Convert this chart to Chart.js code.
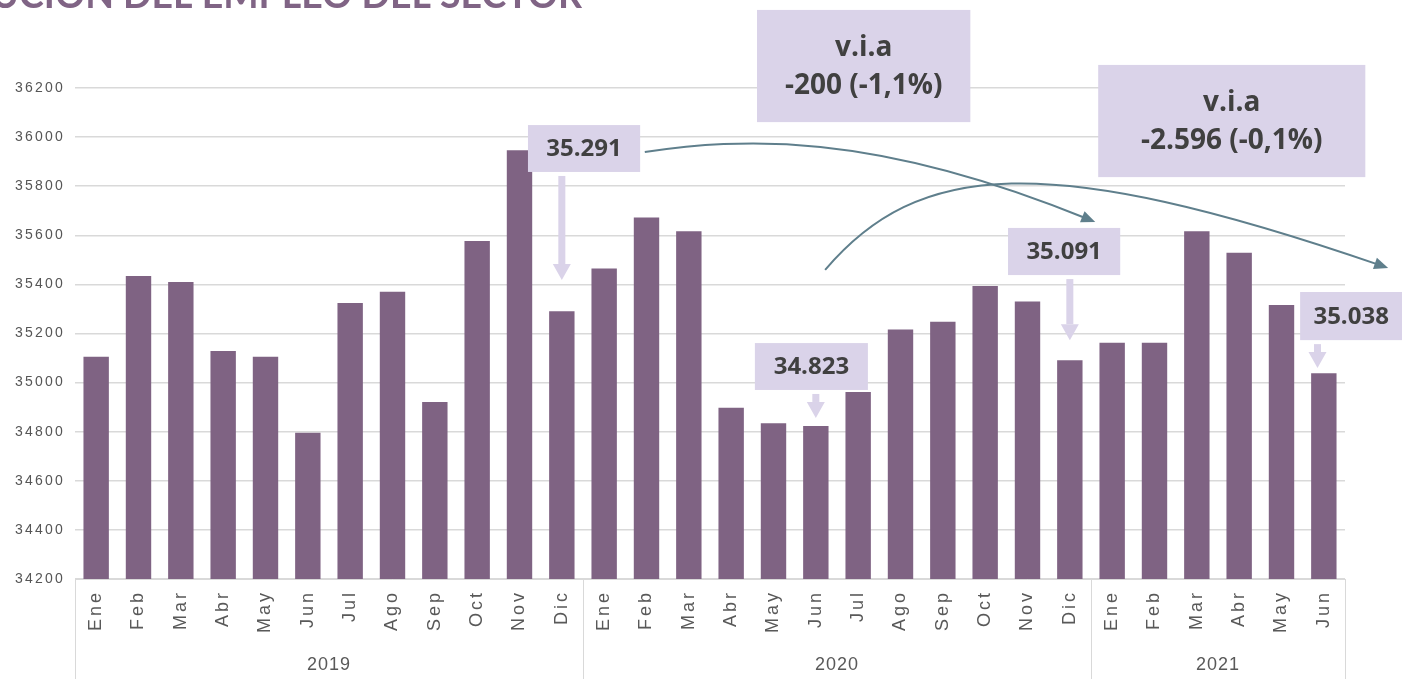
<!DOCTYPE html>
<html>
<head>
<meta charset="utf-8">
<script src="https://cdn.jsdelivr.net/npm/chart.js@4/dist/chart.umd.min.js"></script>
<style>
html, body { margin: 0; padding: 0; background: #fff; overflow: hidden; }
#wrap { position: relative; width: 1402px; height: 679px; }
</style>
</head>
<body>
<div id="wrap"><canvas id="chart" width="1402" height="679"></canvas></div>
<script>
// Data
var months = ['Ene','Feb','Mar','Abr','May','Jun','Jul','Ago','Sep','Oct','Nov','Dic',
              'Ene','Feb','Mar','Abr','May','Jun','Jul','Ago','Sep','Oct','Nov','Dic',
              'Ene','Feb','Mar','Abr','May','Jun'];
var years = ['2019', '2020', '2021'];
var yearCounts = [12, 12, 6];
var empleo = [35105, 35434, 35410, 35129, 35105, 34796, 35324, 35370, 34921, 35577, 35946, 35291,
              35465, 35672, 35616, 34898, 34834, 34823, 34962, 35216, 35248, 35393, 35330, 35091,
              35162, 35162, 35616, 35529, 35316, 35038];
var yMin = 34200;
var yMax = 36200;
var yStep = 200;
var title = 'EVOLUCIÓN DEL EMPLEO DEL SECTOR';

// Callouts, placed in axis units (category index / value)
var valueBoxes = [
	{ text: '35.291', from: 10.2, to: 12.85, top: 36049, bottom: 35858, at: 11, tip: 35418 },
	{ text: '34.823', from: 15.56, to: 18.23, top: 35161, bottom: 34970, at: 17, tip: 34856 },
	{ text: '35.091', from: 21.54, to: 24.19, top: 35630, bottom: 35438, at: 23, tip: 35173 },
	{ text: '35.038', from: 28.44, to: 30.85, top: 35369, bottom: 35173, at: 28.85, tip: 35059 }
];
var viaBoxes = [
	{ lines: ['v.i.a', '-200 (-1,1%)'], from: 15.61, to: 20.65, top: 36518, bottom: 36061 },
	{ lines: ['v.i.a', '-2.596 (-0,1%)'], from: 23.67, to: 29.98, top: 36294, bottom: 35837 }
];
var curves = [
	[[12.96, 35939], [15.21, 35996], [18.28, 36029], [23.60, 35654]],
	[[17.22, 35459], [19.40, 35900], [22.40, 35950], [30.52, 35467]]
];

var BAR = '#7f6383';
var BOX = '#dad3e9';
var BOX_TEXT = '#404040';
var AXIS_TEXT = '#595959';
var GRID = '#d9d9d9';
var CURVE = '#5f7f8c';

var decorations = {
	id: 'decorations',
	// y labels are drawn under the bars, x labels above them (ticks.z = 1)
	beforeDraw: function (chart) {
		chart.ctx.letterSpacing = '2.2px';
	},
	beforeDatasetsDraw: function (chart) {
		chart.ctx.letterSpacing = '0px';
	},
	afterDatasetsDraw: function (chart) {
		chart.ctx.letterSpacing = '3px';
	},
	afterDraw: function (chart) {
		var ctx = chart.ctx;
		var x = chart.scales.x;
		var y = chart.scales.y;
		var area = chart.chartArea;

		ctx.letterSpacing = '0px';
		ctx.save();

		// Year group frame under the month labels
		ctx.strokeStyle = GRID;
		ctx.lineWidth = 1;
		ctx.beginPath();
		ctx.moveTo(x.getPixelForValue(-0.5), area.bottom + 0.5);
		ctx.lineTo(x.getPixelForValue(months.length - 0.5), area.bottom + 0.5);
		var start = 0;
		var bounds = [-0.5];
		yearCounts.forEach(function (n) {
			start += n;
			bounds.push(start - 0.5);
		});
		bounds.forEach(function (b) {
			var bx = Math.round(x.getPixelForValue(b)) + 0.5;
			ctx.moveTo(bx, area.bottom);
			ctx.lineTo(bx, chart.height);
		});
		ctx.stroke();

		ctx.letterSpacing = '1px';
		ctx.fillStyle = AXIS_TEXT;
		ctx.font = '18px "Liberation Sans", Arial, sans-serif';
		ctx.textAlign = 'center';
		ctx.textBaseline = 'middle';
		years.forEach(function (yr, k) {
			var cx = (x.getPixelForValue(bounds[k]) + x.getPixelForValue(bounds[k + 1])) / 2;
			ctx.fillText(yr, cx, chart.height - 14);
		});
		ctx.letterSpacing = '0px';

		// Curved arrows
		ctx.strokeStyle = CURVE;
		ctx.fillStyle = CURVE;
		ctx.lineWidth = 2;
		curves.forEach(function (c) {
			var p = c.map(function (pt) {
				return [x.getPixelForValue(pt[0]), y.getPixelForValue(pt[1])];
			});
			var ang = Math.atan2(p[3][1] - p[2][1], p[3][0] - p[2][0]);
			var endX = p[3][0] - Math.cos(ang) * 8;
			var endY = p[3][1] - Math.sin(ang) * 8;
			ctx.beginPath();
			ctx.moveTo(p[0][0], p[0][1]);
			ctx.bezierCurveTo(p[1][0], p[1][1], p[2][0], p[2][1], endX, endY);
			ctx.stroke();
			ctx.beginPath();
			ctx.moveTo(p[3][0], p[3][1]);
			ctx.lineTo(p[3][0] - Math.cos(ang) * 14 + Math.sin(ang) * 6, p[3][1] - Math.sin(ang) * 14 - Math.cos(ang) * 6);
			ctx.lineTo(p[3][0] - Math.cos(ang) * 14 - Math.sin(ang) * 6, p[3][1] - Math.sin(ang) * 14 + Math.cos(ang) * 6);
			ctx.closePath();
			ctx.fill();
		});

		// Value callouts with down arrows
		valueBoxes.forEach(function (b) {
			var l = x.getPixelForValue(b.from);
			var r = x.getPixelForValue(b.to);
			var t = y.getPixelForValue(b.top);
			var btm = y.getPixelForValue(b.bottom);
			ctx.fillStyle = BOX;
			ctx.fillRect(l, t, r - l, btm - t);
			ctx.fillStyle = BOX_TEXT;
			ctx.font = 'bold 24px "Open Sans", sans-serif';
			ctx.textAlign = 'center';
			ctx.textBaseline = 'middle';
			ctx.fillText(b.text, (l + r) / 2, (t + btm) / 2 + 1);

			var ax = x.getPixelForValue(b.at);
			var tip = y.getPixelForValue(b.tip);
			var headTop = tip - 16;
			ctx.fillStyle = BOX;
			ctx.fillRect(ax - 3.5, btm + 4, 7, headTop - btm - 4);
			ctx.beginPath();
			ctx.moveTo(ax - 9, headTop);
			ctx.lineTo(ax + 9, headTop);
			ctx.lineTo(ax, tip);
			ctx.closePath();
			ctx.fill();
		});

		// Year-on-year variation boxes
		viaBoxes.forEach(function (b) {
			var l = x.getPixelForValue(b.from);
			var r = x.getPixelForValue(b.to);
			var t = y.getPixelForValue(b.top);
			var btm = y.getPixelForValue(b.bottom);
			ctx.fillStyle = BOX;
			ctx.fillRect(l, t, r - l, btm - t);
			ctx.fillStyle = BOX_TEXT;
			ctx.font = 'bold 28px "Open Sans", sans-serif';
			ctx.textAlign = 'center';
			ctx.textBaseline = 'middle';
			var cy = (t + btm) / 2;
			ctx.fillText(b.lines[0], (l + r) / 2, cy - 18);
			ctx.fillText(b.lines[1], (l + r) / 2, cy + 20);
		});

		// Title, cut by the top-left edge as in the source
		ctx.font = 'bold 100px Lato, sans-serif';
		var visible = title.slice(title.indexOf('U'));
		var size = 100 * 591 / ctx.measureText(visible).width;
		ctx.font = 'bold ' + size + 'px Lato, sans-serif';
		var lead = ctx.measureText(title.slice(0, title.indexOf('U'))).width;
		ctx.fillStyle = '#806485';
		ctx.textAlign = 'left';
		ctx.textBaseline = 'alphabetic';
		ctx.fillText(title, -8 - lead, 8);

		ctx.restore();
	}
};

var ctx = document.getElementById('chart').getContext('2d');
new Chart(ctx, {
	type: 'bar',
	data: {
		labels: months,
		datasets: [{
			label: 'Empleo',
			data: empleo,
			backgroundColor: BAR,
			borderWidth: 0,
			barPercentage: 0.6,
			categoryPercentage: 1
		}]
	},
	options: {
		responsive: false,
		animation: false,
		events: [],
		layout: { padding: { top: 88, right: 57, left: 0, bottom: 0 } },
		plugins: {
			legend: { display: false },
			tooltip: { enabled: false },
			title: { display: false }
		},
		scales: {
			x: {
				grid: { display: false, drawTicks: false },
				border: { display: false },
				ticks: {
					minRotation: 90,
					maxRotation: 90,
					autoSkip: false,
					padding: 11,
					z: 1,
					color: AXIS_TEXT,
					font: { family: '"Liberation Sans", Arial, sans-serif', size: 18 }
				},
				afterFit: function (s) { s.height = 100; }
			},
			y: {
				min: yMin,
				max: yMax,
				grid: { color: GRID, lineWidth: 1.5, drawTicks: false },
				border: { display: false },
				ticks: {
					stepSize: yStep,
					padding: 10,
					color: '#555555',
					font: { family: '"Liberation Sans", Arial, sans-serif', size: 14 },
					callback: function (v) { return String(v); }
				},
				afterFit: function (s) { s.width = 75; }
			}
		}
	},
	plugins: [decorations]
});
</script>
</body>
</html>
